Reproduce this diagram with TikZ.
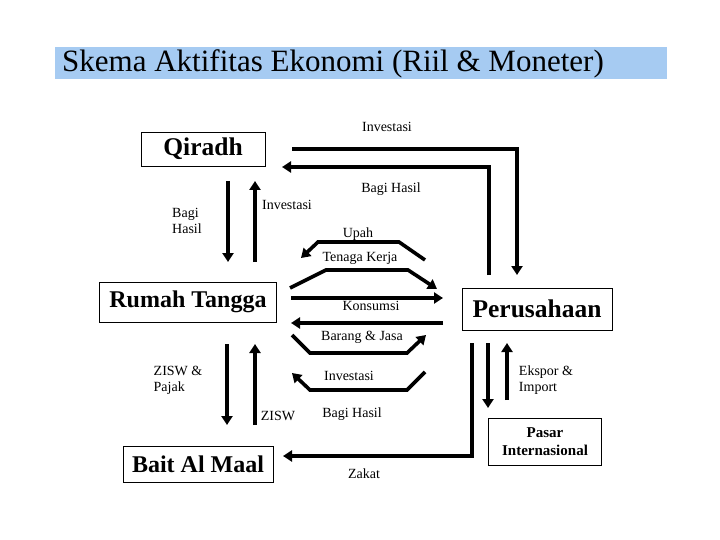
\documentclass[tikz,border=0pt]{standalone}
\usepackage{fontspec}
\setmainfont{Liberation Serif}
\usetikzlibrary{arrows.meta}
\definecolor{titlebg}{HTML}{A6CBF2}
\begin{document}
\begin{tikzpicture}[x=1pt,y=-1pt,
  box/.style={draw,line width=0.8pt,inner sep=0pt,font=\bfseries\fontsize{24}{28}\selectfont},
  lbl/.style={font=\fontsize{14}{16}\selectfont,align=left},
  flow/.style={line width=3.6pt,-{Triangle[width=11pt,length=9pt]}}]
\useasboundingbox[fill=white] (0,0) rectangle (720,540);
\node[fill=titlebg,minimum width=612pt,minimum height=32pt,anchor=north west,inner sep=0pt] (title) at (55,47) {};
\node[anchor=west,inner sep=0pt,font=\fontsize{31}{34}\selectfont] (tt) at (62,64) {Skema Aktifitas Ekonomi (Riil \& Moneter)};
\node[box,minimum width=124pt,minimum height=34pt,font=\bfseries\fontsize{25.5}{28}\selectfont] (q) at (203,149) {Qiradh};
\node[box,minimum width=177pt,minimum height=40pt] (rt) at (188,302) {Rumah Tangga};
\node[box,minimum width=150pt,minimum height=42pt,font=\bfseries\fontsize{25.5}{28}\selectfont] (p) at (537,309) {Perusahaan};
\node[box,minimum width=150pt,minimum height=36pt] (b) at (198,464) {Bait Al Maal};
\node[box,minimum width=113pt,minimum height=47pt,align=center,font=\bfseries\fontsize{15}{18}\selectfont] (pi) at (545,442) {Pasar\\Internasional};
% connectors
\draw[flow] (292,149) -- (517,149) -- (517,275);
\draw[flow] (489,275) -- (489,167) -- (282,167);
\draw[flow] (228,181) -- (228,262);
\draw[flow] (255,262) -- (255,181);
\draw[flow] (425,260) -- (399,242) -- (318,242) -- (301,258);
\draw[flow] (290,288) -- (326,270) -- (408,270) -- (437,289);
\draw[flow] (291,298) -- (443,298);
\draw[flow] (443,323) -- (291,323);
\draw[flow] (292,335) -- (310,353) -- (407,353) -- (426,335);
\draw[flow] (425,372) -- (407,390) -- (310,390) -- (292,373);
\draw[flow] (227,344) -- (227,425);
\draw[flow] (255,425) -- (255,344);
\draw[flow] (472,343) -- (472,456) -- (283,456);
\draw[flow] (488,343) -- (488,408);
\draw[flow] (507,400) -- (507,343);
% labels
\node[lbl] (l1) at (387,127) {Investasi};
\node[lbl] (l2) at (391,189) {Bagi Hasil};
\node[lbl] (l3) at (187,221) {Bagi\\Hasil};
\node[lbl] (l4) at (287,205) {Investasi};
\node[lbl] (l5) at (358,234) {Upah};
\node[lbl] (l6) at (360,258) {Tenaga Kerja};
\node[lbl] (l7) at (371,306) {Konsumsi};
\node[lbl] (l8) at (362,337) {Barang \& Jasa};
\node[lbl] (l9) at (349,376) {Investasi};
\node[lbl] (l10) at (352,414) {Bagi Hasil};
\node[lbl] (l11) at (178,380) {ZISW \&\\Pajak};
\node[lbl] (l12) at (278,416) {ZISW};
\node[lbl] (l13) at (364,474) {Zakat};
\node[lbl] (l14) at (546,380) {Ekspor \&\\Import};
\end{tikzpicture}
\end{document}
